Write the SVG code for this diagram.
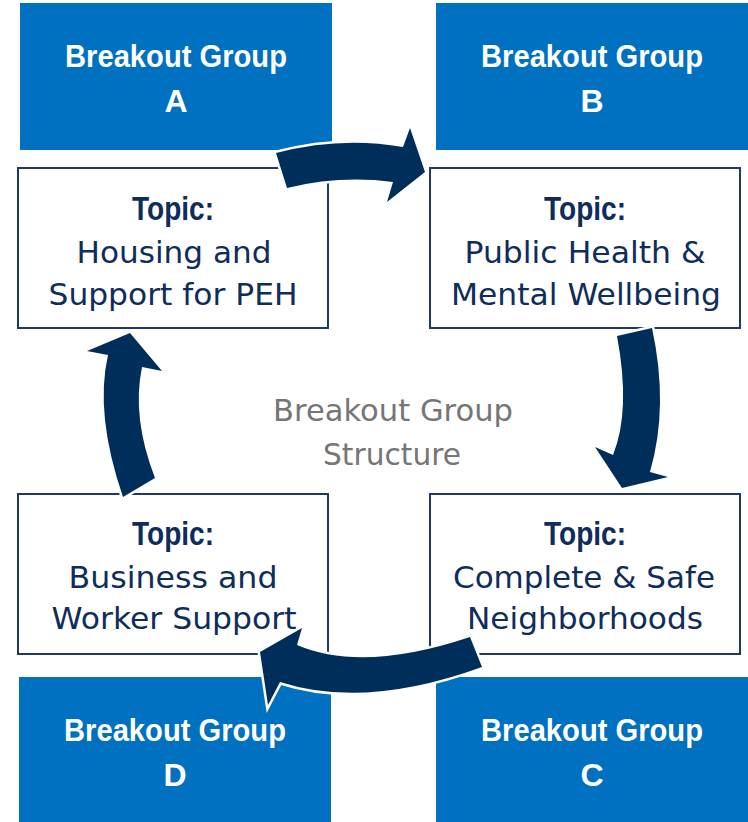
<svg xmlns="http://www.w3.org/2000/svg" width="748" height="822" viewBox="0 0 748 822">
<style>
.grp{fill:#0070C0}
.topic{fill:#fff;stroke:#1F3864;stroke-width:2}
.gt{font-family:"Liberation Sans",Arial,sans-serif;font-weight:bold;font-size:32px;fill:#fff;text-anchor:middle}
.th{font-family:"Liberation Sans",Arial,sans-serif;font-weight:bold;font-size:33px;fill:#0E2D5B;text-anchor:middle}
.tt{font-family:"DejaVu Sans",sans-serif;font-size:30px;fill:#0E2D5B;text-anchor:middle}
.ct{font-family:"DejaVu Sans",sans-serif;font-size:30px;fill:#767676;text-anchor:middle}
.arr{fill:#002E5A;stroke:#fff;stroke-width:5;stroke-linejoin:miter;paint-order:stroke}
</style>
<rect width="748" height="822" fill="#fff"/>
<g id="groupA">
<rect class="grp" x="20" y="3" width="312" height="147"/>
<text class="gt" x="176" y="67" textLength="222" lengthAdjust="spacingAndGlyphs">Breakout Group</text>
<text class="gt" x="176" y="112">A</text>
</g>
<g id="groupB">
<rect class="grp" x="436" y="3" width="312" height="147"/>
<text class="gt" x="592" y="67" textLength="222" lengthAdjust="spacingAndGlyphs">Breakout Group</text>
<text class="gt" x="592" y="112">B</text>
</g>
<g id="groupC">
<rect class="grp" x="436" y="677" width="312" height="145"/>
<text class="gt" x="592" y="741" textLength="222" lengthAdjust="spacingAndGlyphs">Breakout Group</text>
<text class="gt" x="592" y="786">C</text>
</g>
<g id="groupD">
<rect class="grp" x="19" y="677" width="312" height="145"/>
<text class="gt" x="175" y="741" textLength="222" lengthAdjust="spacingAndGlyphs">Breakout Group</text>
<text class="gt" x="175" y="786">D</text>
</g>
<g id="topicA">
<rect class="topic" x="18" y="168" width="310" height="160"/>
<text class="th" x="173" y="220" textLength="82" lengthAdjust="spacingAndGlyphs">Topic:</text>
<text class="tt" x="174" y="263" textLength="195" lengthAdjust="spacingAndGlyphs">Housing and</text>
<text class="tt" x="173" y="305" textLength="249" lengthAdjust="spacingAndGlyphs">Support for PEH</text>
</g>
<g id="topicB">
<rect class="topic" x="430" y="168" width="310" height="160"/>
<text class="th" x="585" y="220" textLength="82" lengthAdjust="spacingAndGlyphs">Topic:</text>
<text class="tt" x="585" y="263" textLength="241" lengthAdjust="spacingAndGlyphs">Public Health &amp;</text>
<text class="tt" x="586" y="305" textLength="270" lengthAdjust="spacingAndGlyphs">Mental Wellbeing</text>
</g>
<g id="topicC">
<rect class="topic" x="430" y="494" width="310" height="160"/>
<text class="th" x="585" y="545" textLength="82" lengthAdjust="spacingAndGlyphs">Topic:</text>
<text class="tt" x="584" y="588" textLength="262" lengthAdjust="spacingAndGlyphs">Complete &amp; Safe</text>
<text class="tt" x="585" y="629" textLength="236" lengthAdjust="spacingAndGlyphs">Neighborhoods</text>
</g>
<g id="topicD">
<rect class="topic" x="18" y="494" width="310" height="160"/>
<text class="th" x="173" y="545" textLength="82" lengthAdjust="spacingAndGlyphs">Topic:</text>
<text class="tt" x="173" y="588" textLength="209" lengthAdjust="spacingAndGlyphs">Business and</text>
<text class="tt" x="174" y="629" textLength="245" lengthAdjust="spacingAndGlyphs">Worker Support</text>
</g>
<g id="center">
<text class="ct" x="393" y="421" textLength="240" lengthAdjust="spacingAndGlyphs">Breakout Group</text>
<text class="ct" x="392" y="465" textLength="138" lengthAdjust="spacingAndGlyphs">Structure</text>
</g>
<g id="connectors">
<path class="arr" d="M276,153 Q340.5,136 403,147 L410,128 L425,172 L387,202 L393,182 Q340,175 287,188 Z"/>
<path class="arr" d="M652,328 Q669,406 650,472 L668,477 L622,488 L595,447 L613,455 Q631,410.5 617,336 Z"/>
<path class="arr" d="M482,667 Q365,709.5 280,682 L268,705 L260,652 L302,628 L297,645 Q362.5,673 470,637 Z"/>
<path class="arr" d="M123,497 Q94.5,414 108,355 L87,351 L130,333 L162,371 L142,367 Q131.5,417.5 155,478 Z"/>
</g>
</svg>
